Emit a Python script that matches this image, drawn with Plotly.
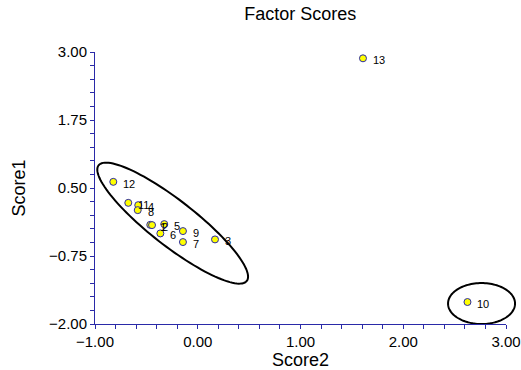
import numpy as np
import plotly.graph_objects as go

# Factor scores per observation
obs = ["1", "2", "3", "4", "5", "6", "7", "8", "9", "10", "11", "12", "13"]
score2 = [-0.462, -0.445, 0.168, -0.579, -0.326, -0.364, -0.144, -0.584, -0.144, 2.625, -0.676, -0.822, 1.608]
score1 = [-0.177, -0.182, -0.445, 0.185, -0.164, -0.335, -0.494, 0.093, -0.292, -1.596, 0.227, 0.613, 2.884]

X_RANGE = [-1.0, 3.0]
Y_RANGE = [-2.0, 3.0]

# Cluster outlines: centre, and two semi-axis vectors (data units)
cluster_main = dict(center=(-0.244, -0.146), u=(0.721, -1.063), v=(0.136, 0.327))
cluster_outlier = dict(center=(2.762, -1.624), u=(0.326, 0.0), v=(0.0, 0.376))

AXIS_BLUE = "#2a2aa8"
FONT = "Arial, Liberation Sans, sans-serif"


def ellipse_path(c, u, v, n=120):
    t = np.linspace(0, 2 * np.pi, n, endpoint=False)
    xs = c[0] + np.cos(t) * u[0] + np.sin(t) * v[0]
    ys = c[1] + np.cos(t) * u[1] + np.sin(t) * v[1]
    # convert to axis-domain fractions so the outline is not clipped at the frame
    fx = (xs - X_RANGE[0]) / (X_RANGE[1] - X_RANGE[0])
    fy = (ys - Y_RANGE[0]) / (Y_RANGE[1] - Y_RANGE[0])
    pts = [f"{a:.5f},{b:.5f}" for a, b in zip(fx, fy)]
    return "M" + " L".join(pts) + " Z"


fig = go.Figure()

for cl in (cluster_main, cluster_outlier):
    fig.add_shape(type="path", path=ellipse_path(cl["center"], cl["u"], cl["v"]),
                  xref="x domain", yref="y domain", layer="below",
                  line=dict(color="black", width=2), fillcolor="rgba(0,0,0,0)")

fig.add_trace(go.Scatter(
    x=score2, y=score1, mode="markers",
    marker=dict(size=7, color="#ffff00", line=dict(color=AXIS_BLUE, width=1)),
    cliponaxis=False, showlegend=False,
))

# observation numbers to the right of each point
for xv, yv, name in zip(score2, score1, obs):
    fig.add_annotation(x=xv, y=yv, text=name, showarrow=False,
                       xanchor="left", yanchor="middle", xshift=8, yshift=-2,
                       font=dict(family=FONT, size=11, color="black"))

axis_common = dict(
    showgrid=False, zeroline=False, showline=True, linecolor=AXIS_BLUE, linewidth=1,
    ticks="outside", ticklen=4, tickcolor=AXIS_BLUE, tickwidth=1, automargin=False,
    tickformat=".2f", tickfont=dict(family=FONT, size=15, color="black"),
    title_font=dict(family=FONT, size=18, color="black"),
)

fig.update_layout(
    width=521, height=370,
    margin=dict(l=95, r=15, t=52, b=46),
    paper_bgcolor="white", plot_bgcolor="white",
    title=dict(text="Factor Scores", x=0.5765, xanchor="center", y=0.962, yanchor="middle",
               font=dict(family=FONT, size=18, color="black")),
    xaxis=dict(range=X_RANGE, tick0=-1, dtick=1,
               minor=dict(dtick=0.2, ticks="outside", ticklen=4, tickcolor=AXIS_BLUE),
               title=dict(text="Score2", standoff=8), **axis_common),
    yaxis=dict(range=Y_RANGE, tick0=-2, dtick=1.25,
               minor=dict(dtick=0.25, ticks="outside", ticklen=4, tickcolor=AXIS_BLUE),
               title=dict(text="Score1", standoff=18), **axis_common),
)

fig.write_html("out.html")
